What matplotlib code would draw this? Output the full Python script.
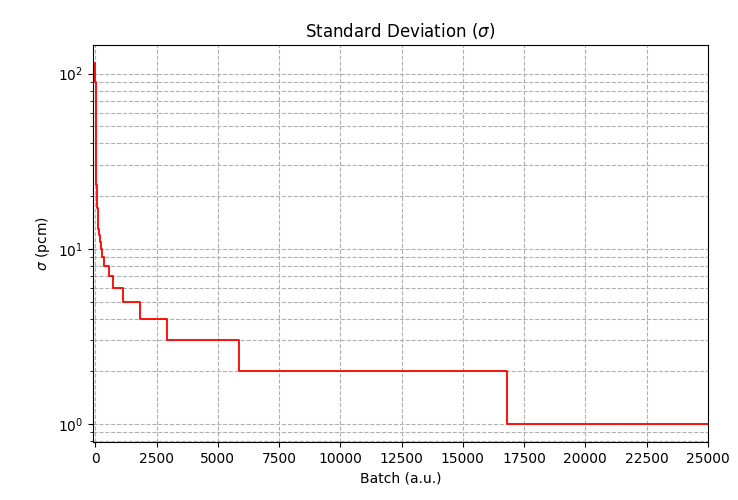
import matplotlib
matplotlib.use('Agg')
import matplotlib.pyplot as plt

# batch at which each sigma level (pcm) starts
batch_start = [0, 1.5, 3, 5, 8, 12, 18, 26, 36, 50, 70, 90, 105, 125, 150, 180, 220, 274, 370, 543, 707, 1115, 1800, 2930, 5880, 16800]
sigma = [115, 90, 70, 55, 45, 38, 32, 27, 23, 20, 17, 15, 14, 13, 12, 11, 10, 9, 8, 7, 6, 5, 4, 3, 2, 1]
batch_end = 25000

fig = plt.figure(figsize=(7.38, 5.0), dpi=100)
ax = fig.add_axes([0.126, 0.116, 0.833, 0.794])

ax.step(batch_start + [batch_end], sigma + [sigma[-1]], where='post', color='red', linewidth=1.3)
ax.set_yscale('log')
ax.set_xlim([-100, 25000])
ax.set_xticks(range(0, 25001, 2500))
ax.grid(True, which='both', linestyle='--', color='#b0b0b0', linewidth=0.8)
ax.set_title(r'Standard Deviation ($\sigma$)')
ax.set_xlabel('Batch (a.u.)')
ax.set_ylabel(r'$\sigma$ (pcm)')

fig.savefig('out.png', dpi=100)
